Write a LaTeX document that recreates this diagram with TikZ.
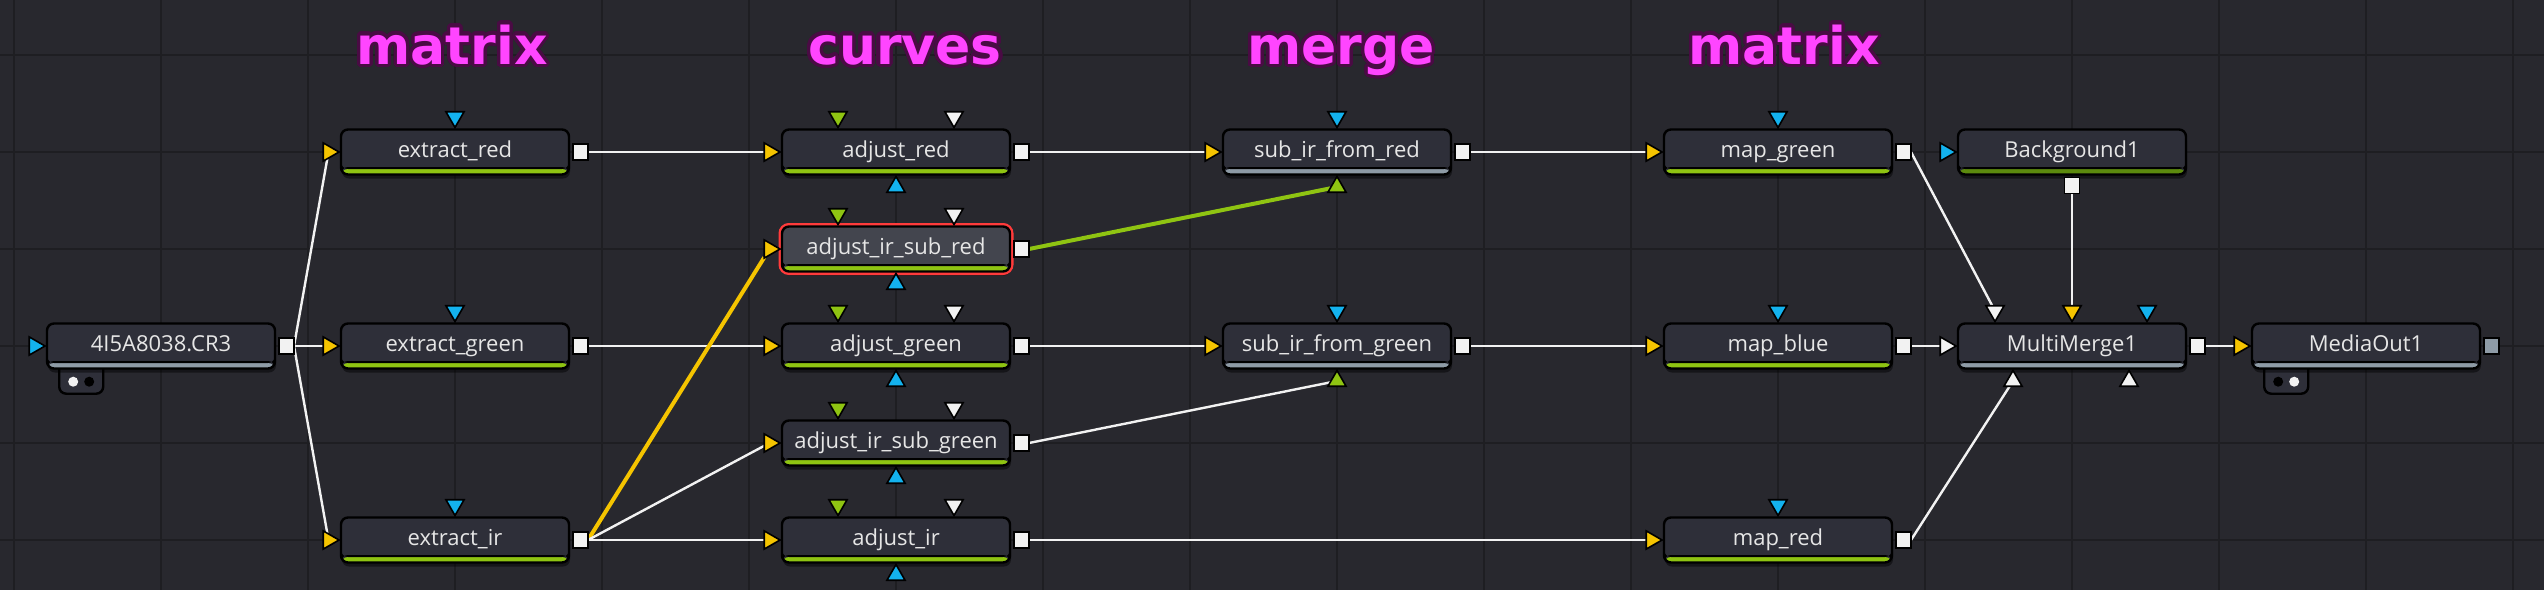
\documentclass[tikz,border=0pt]{standalone}
\usepackage{fontspec}
\setmainfont{Open Sans}
\newfontfamily\fustitlefont{DejaVu Sans}
\usepackage{xcolor}
\usepackage{tikz}
\usetikzlibrary{positioning,shapes.geometric,shadows}
\usepackage{contour}
\contourlength{3.2pt}
\contournumber{40}
\definecolor{fuscanvas}{HTML}{28282E}
\definecolor{fusgrid}{HTML}{1E1E22}
\definecolor{fusbody}{HTML}{2E2F39}
\definecolor{fusselbody}{HTML}{43454E}
\definecolor{fusselect}{HTML}{FF3B3B}
\definecolor{fusgreen}{HTML}{8FC412}
\definecolor{fusdarkgreen}{HTML}{5C8A0E}
\definecolor{fusgray}{HTML}{8E9BA6}
\definecolor{fusyellow}{HTML}{F5C400}
\definecolor{fusblue}{HTML}{13B2EE}
\definecolor{fuswhite}{HTML}{F2F2F2}
\definecolor{fustext}{HTML}{E6E6E6}
\definecolor{fuspink}{HTML}{FF45FF}
\definecolor{fusshade}{HTML}{4A0B44}
\pgfdeclarelayer{grid}
\pgfdeclarelayer{wires}
\pgfsetlayers{grid,wires,main}
\tikzset{%
  fusnode/.style={%
    draw=black,
    line width=2.4pt,
    fill=fusbody,
    rounded corners=7pt,
    minimum width=228pt,
    minimum height=45pt,
    inner sep=0pt,
    outer sep=0pt,
    text=fustext,
    text height=16pt,
    text depth=6pt,
    font=\fontsize{22pt}{26pt}\selectfont,
    drop shadow={shadow xshift=1pt,shadow yshift=-4pt,opacity=0.45,fill=black},
    path picture={%
      \fill[#1] (path picture bounding box.south west) rectangle ([yshift=5.5pt]path picture bounding box.south east);
      \fill[black] ([yshift=5.5pt]path picture bounding box.south west) rectangle ([yshift=7.5pt]path picture bounding box.south east);
    }
  },
  fusnode/.default=fusgreen,
  fusselected/.style={%
    fusnode,
    fill=fusselbody,
    preaction={draw=fusselect,line width=7pt}
  },
  fusport/.style={%
    regular polygon,
    regular polygon sides=3,
    minimum size=21pt,
    inner sep=0pt,
    outer sep=0pt,
    draw=black,
    line width=1.6pt
  },
  fusin/.style={fusport,shape border rotate=-90,fill=#1},
  fusin/.default=fusyellow,
  fusdown/.style={fusport,shape border rotate=180,fill=#1},
  fusdown/.default=fusblue,
  fusup/.style={fusport,fill=#1},
  fusup/.default=fusblue,
  fusout/.style={%
    rectangle,
    minimum width=15pt,
    minimum height=16pt,
    inner sep=0pt,
    outer sep=0pt,
    draw=black,
    line width=1.6pt,
    fill=#1
  },
  fusout/.default=fuswhite,
  fustab/.style={%
    draw=black,
    line width=2.4pt,
    fill=fusbody,
    rounded corners=7pt,
    minimum width=44pt,
    minimum height=32pt,
    inner sep=0pt
  },
  fusdot/.style={circle,minimum size=10pt,inner sep=0pt,fill=#1},
  fuswire/.style={draw=fuswhite,line width=2.4pt},
  fuslink/.style={draw=#1,line width=4pt},
  fustitle/.style={%
    text=fuspink,
    font=\fustitlefont\bfseries\fontsize{52pt}{58pt}\selectfont,
    anchor=base,
    inner sep=0pt
  }
}

\begin{document}
\begin{tikzpicture}[x=1pt,y=-1pt]
    \useasboundingbox (0,0) rectangle (2544,590);
    \begin{pgfonlayer}{grid}
      \fill[fuscanvas] (0,0) rectangle (2544,590);
      \foreach \gx in {0,...,17} \draw[fusgrid,line width=2pt] (14+147*\gx,0) -- (14+147*\gx,590);
      \foreach \gy in {0,...,5} \draw[fusgrid,line width=2pt] (0,55+97*\gy) -- (2544,55+97*\gy);
    \end{pgfonlayer}

    \node[fustitle] (title_matrix) at (452,64) {\contour{fusshade}{matrix}};
    \node[fustitle] (title_curves) at (905,64) {\contour{fusshade}{curves}};
    \node[fustitle] (title_merge) at (1341,64) {\contour{fusshade}{merge}};
    \node[fustitle] (title_matrix2) at (1784,64) {\contour{fusshade}{matrix}};

    \node[fusnode=fusgray] (cr3) at (161,346) {4I5A8038.CR3};
    \node[fusnode,right=66pt of cr3] (eg) {extract\_green};
    \node[fusnode,above=149pt of eg] (er) {extract\_red};
    \node[fusnode,below=149pt of eg] (ei) {extract\_ir};
    \node[fusnode,right=213pt of eg] (ag) {adjust\_green};
    \node[fusselected,above=52pt of ag] (airr) {adjust\_ir\_sub\_red};
    \node[fusnode,above=52pt of airr] (ar) {adjust\_red};
    \node[fusnode,below=52pt of ag] (airg) {adjust\_ir\_sub\_green};
    \node[fusnode,below=52pt of airg] (ai) {adjust\_ir};
    \node[fusnode=fusgray,right=213pt of ag] (sg) {sub\_ir\_from\_green};
    \node[fusnode=fusgray,above=149pt of sg] (sr) {sub\_ir\_from\_red};
    \node[fusnode,right=213pt of sg] (mb) {map\_blue};
    \node[fusnode,above=149pt of mb] (mg) {map\_green};
    \node[fusnode,below=149pt of mb] (mr) {map\_red};
    \node[fusnode=fusgray,right=66pt of mb] (mm) {MultiMerge1};
    \node[fusnode=fusdarkgreen,above=149pt of mm] (bg) {Background1};
    \node[fusnode=fusgray,right=66pt of mm] (mo) {MediaOut1};

    \node[fusin=fusblue,left=2pt of cr3.west] (cr3_in) {};
    \node[fusout,right=4pt of cr3.east] (cr3_out) {};
    \foreach \n in {er,eg,ei,mg,mb,mr} {
      \node[fusin,left=2pt of \n.west] (\n_in) {};
      \node[fusdown,above=2pt of \n.north] (\n_mask) {};
      \node[fusout,right=4pt of \n.east] (\n_out) {};
    }
    \foreach \n in {ar,airr,ag,airg,ai} {
      \node[fusin,left=2pt of \n.west] (\n_in) {};
      \node[fusdown=fusgreen,above=2pt of \n.north,xshift=-58pt] (\n_fg) {};
      \node[fusdown=fuswhite,above=2pt of \n.north,xshift=58pt] (\n_fx) {};
      \node[fusup,below=2pt of \n.south] (\n_mask) {};
      \node[fusout,right=4pt of \n.east] (\n_out) {};
    }
    \foreach \n in {sr,sg} {
      \node[fusin,left=2pt of \n.west] (\n_in) {};
      \node[fusdown,above=2pt of \n.north] (\n_mask) {};
      \node[fusup=fusgreen,below=2pt of \n.south] (\n_fg) {};
      \node[fusout,right=4pt of \n.east] (\n_out) {};
    }
    \node[fusin=fusblue,left=2pt of bg.west] (bg_in) {};
    \node[fusout,below=3pt of bg.south] (bg_out) {};
    \node[fusin=fuswhite,left=2pt of mm.west] (mm_in) {};
    \node[fusdown=fuswhite,above=2pt of mm.north,xshift=-77pt] (mm_fg) {};
    \node[fusdown=fusyellow,above=2pt of mm.north] (mm_bg) {};
    \node[fusdown,above=2pt of mm.north,xshift=75pt] (mm_mask) {};
    \node[fusup=fuswhite,below=2pt of mm.south,xshift=-59pt] (mm_l1) {};
    \node[fusup=fuswhite,below=2pt of mm.south,xshift=57pt] (mm_l2) {};
    \node[fusout,right=4pt of mm.east] (mm_out) {};
    \node[fusin,left=2pt of mo.west] (mo_in) {};
    \node[fusout=fusgray,right=4pt of mo.east] (mo_out) {};

    \begin{pgfonlayer}{wires}
      \node[fustab,anchor=north west] (cr3_tab) at ([xshift=11pt,yshift=8pt]cr3.south west) {};
      \node[fusdot=fuswhite] (cr3_v1) at ([xshift=-8pt,yshift=-4pt]cr3_tab.center) {};
      \node[fusdot=black] (cr3_v2) at ([xshift=8pt,yshift=-4pt]cr3_tab.center) {};
      \node[fustab,anchor=north west] (mo_tab) at ([xshift=11pt,yshift=8pt]mo.south west) {};
      \node[fusdot=black] (mo_v1) at ([xshift=-8pt,yshift=-4pt]mo_tab.center) {};
      \node[fusdot=fuswhite] (mo_v2) at ([xshift=8pt,yshift=-4pt]mo_tab.center) {};

      \draw[fuswire] (cr3_out.east) -- (er_in);
      \draw[fuswire] (cr3_out.east) -- (eg_in);
      \draw[fuswire] (cr3_out.east) -- (ei_in);
      \draw[fuswire] (er_out.east) -- (ar_in);
      \draw[fuswire] (eg_out.east) -- (ag_in);
      \draw[fuslink=fusyellow] (ei_out.east) -- (airr_in);
      \draw[fuswire] (ei_out.east) -- (airg_in);
      \draw[fuswire] (ei_out.east) -- (ai_in);
      \draw[fuswire] (ar_out.east) -- (sr_in);
      \draw[fuslink=fusgreen] (airr_out.east) -- (sr_fg);
      \draw[fuswire] (ag_out.east) -- (sg_in);
      \draw[fuswire] (airg_out.east) -- (sg_fg);
      \draw[fuswire] (ai_out.east) -- (mr_in);
      \draw[fuswire] (sr_out.east) -- (mg_in);
      \draw[fuswire] (sg_out.east) -- (mb_in);
      \draw[fuswire] (mg_out.east) -- (mm_fg);
      \draw[fuswire] (bg_out.south) -- (mm_bg);
      \draw[fuswire] (mb_out.east) -- (mm_in);
      \draw[fuswire] (mr_out.east) -- (mm_l1);
      \draw[fuswire] (mm_out.east) -- (mo_in);
    \end{pgfonlayer}
\end{tikzpicture}
\end{document}
